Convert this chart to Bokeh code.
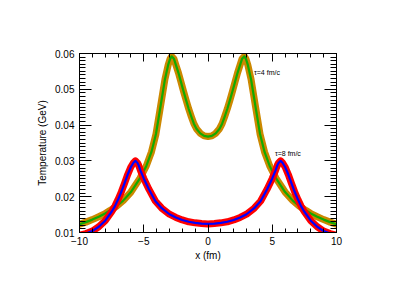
from bokeh.plotting import figure
from bokeh.models import Range1d, LinearAxis, SingleIntervalTicker, CustomJSTickFormatter
from bokeh.core.properties import value
from bokeh.embed import file_html
from bokeh.resources import INLINE

# tau = 4 fm/c profile
x_tau4 = [-10, -9.5, -9, -8.5, -8, -7.6, -7.1, -6.6, -6, -5.3, -4.8, -4.4, -4.05, -3.75,
          -3.35, -3.1, -2.95, -2.83, -2.65, -2.5, -2.3, -2.1, -1.9, -1.7, -1.5, -1.3,
          -1.1, -0.9, -0.6, -0.3, 0,
          0.3, 0.6, 0.9, 1.1, 1.3, 1.5, 1.7, 1.9, 2.1, 2.3, 2.5, 2.65, 2.83, 2.95,
          3.1, 3.35, 3.75, 4.05, 4.4, 4.8, 5.3, 6, 6.6, 7.1, 7.6, 8, 8.5, 9, 9.5, 10]
T_tau4 = [0.0123, 0.0129, 0.0136, 0.0144, 0.0153, 0.0162, 0.0174, 0.0189, 0.0213, 0.0251,
          0.0286, 0.0325, 0.0375, 0.0440, 0.0528, 0.0568, 0.0585, 0.0592, 0.0585, 0.0568,
          0.0546, 0.0520, 0.0494, 0.0469, 0.0445, 0.0424, 0.0404, 0.0390, 0.0377, 0.0370,
          0.0368,
          0.0370, 0.0377, 0.0390, 0.0404, 0.0424, 0.0445, 0.0469, 0.0494, 0.0520, 0.0546,
          0.0568, 0.0585, 0.0592, 0.0585, 0.0568, 0.0528, 0.0440, 0.0375, 0.0325, 0.0286,
          0.0251, 0.0213, 0.0189, 0.0174, 0.0162, 0.0153, 0.0144, 0.0136, 0.0129, 0.0123]

# tau = 8 fm/c profile
x_tau8 = [-10, -9.5, -9, -8.5, -8, -7.5, -7.25, -7, -6.75, -6.5, -6.25, -6, -5.8, -5.65,
          -5.5, -5.4, -5.25, -5, -4.6, -4.1, -3.6, -3, -2.5, -2, -1.5, -1, -0.5, 0,
          0.5, 1, 1.5, 2, 2.5, 3, 3.6, 4.1, 4.6, 5, 5.25, 5.4, 5.5, 5.65, 5.8, 6,
          6.25, 6.5, 6.75, 7, 7.25, 7.5, 8, 8.5, 9, 9.5, 10]
T_tau8 = [0.0092, 0.0097, 0.0104, 0.0116, 0.0133, 0.0158, 0.0173, 0.0192, 0.0213, 0.0237,
          0.0262, 0.0283, 0.0295, 0.0300, 0.0295, 0.0288, 0.0273, 0.0251, 0.0221, 0.0188,
          0.0168, 0.0151, 0.0142, 0.0135, 0.0130, 0.0127, 0.0125, 0.0124,
          0.0125, 0.0127, 0.0130, 0.0135, 0.0142, 0.0151, 0.0168, 0.0188, 0.0221, 0.0251,
          0.0273, 0.0288, 0.0295, 0.0300, 0.0295, 0.0283, 0.0262, 0.0237, 0.0213, 0.0192,
          0.0173, 0.0158, 0.0133, 0.0116, 0.0104, 0.0097, 0.0092]

label_texts = ["τ=4 fm/c", "τ=8 fm/c"]
label_x = [3.58, 5.21]
label_y = [0.0546, 0.0322]

FONT = "Liberation Sans"

p = figure(frame_width=257, frame_height=179, output_backend="svg", toolbar_location=None,
           x_range=Range1d(-10, 10), y_range=Range1d(0.01, 0.06),
           min_border_left=79, min_border_right=70, min_border_top=53, min_border_bottom=45)
p.xgrid.visible = False
p.ygrid.visible = False
p.outline_line_color = "black"
p.outline_line_width = 1
p.background_fill_color = "white"
p.border_fill_color = "white"

# curves
p.line(x_tau4, T_tau4, line_color="#cc8800", line_width=7, line_join="round", line_cap="round")
p.line(x_tau4, T_tau4, line_color="#11aa00", line_width=2.2, line_join="round")
p.line(x_tau8, T_tau8, line_color="#ff0000", line_width=7, line_join="round", line_cap="round")
p.line(x_tau8, T_tau8, line_color="#0000ff", line_width=2.2, line_join="round")

p.text(label_x, label_y, text=label_texts, text_font=value(FONT), text_font_size="7px",
       text_align="left", text_baseline="middle", text_color="black")


def style_axis(ax, major, minor):
    ax.axis_line_color = "black"
    ax.major_tick_line_color = "black"
    ax.minor_tick_line_color = "black"
    ax.major_tick_in = major
    ax.major_tick_out = 0
    ax.minor_tick_in = minor
    ax.minor_tick_out = 0
    ax.major_label_text_font = FONT
    ax.major_label_text_font_size = "10px"
    ax.major_label_text_color = "black"
    ax.axis_label_text_font = FONT
    ax.axis_label_text_font_size = "10px"
    ax.axis_label_text_font_style = "normal"
    ax.axis_label_text_color = "black"


p.xaxis.ticker = SingleIntervalTicker(interval=5, num_minor_ticks=5)
p.yaxis.ticker = SingleIntervalTicker(interval=0.01, num_minor_ticks=10)
p.xaxis.axis_label = "x (fm)"
p.yaxis.axis_label = "Temperature (GeV)"
style_axis(p.xaxis[0], 8, 4)
style_axis(p.yaxis[0], 12, 6)
p.xaxis.major_label_standoff = 4
p.yaxis.major_label_standoff = 5
p.xaxis.axis_label_standoff = 2
p.yaxis.axis_label_standoff = 4
p.xaxis.major_label_overrides = {-10: "−10", -5: "−5", 0: "0", 5: "5", 10: "10"}

blank = CustomJSTickFormatter(code="return '';")
top = LinearAxis(ticker=SingleIntervalTicker(interval=5, num_minor_ticks=5), formatter=blank)
style_axis(top, 8, 4)
p.add_layout(top, "above")
right = LinearAxis(ticker=SingleIntervalTicker(interval=0.01, num_minor_ticks=10),
                   formatter=CustomJSTickFormatter(code="return '';"))
style_axis(right, 12, 6)
p.add_layout(right, "right")

open("out.html", "w").write(file_html(p, INLINE))
